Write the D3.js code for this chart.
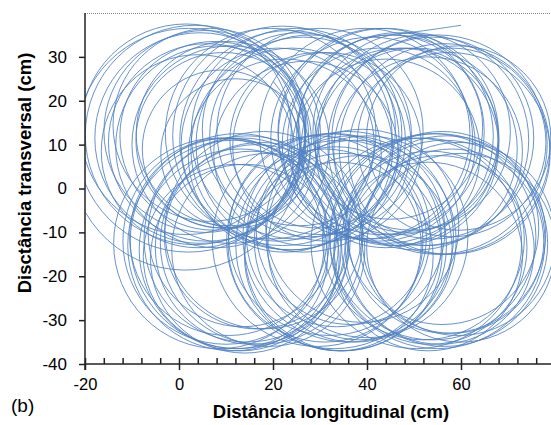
<!DOCTYPE html>
<html>
<head>
<meta charset="utf-8">
<script src="https://cdn.jsdelivr.net/npm/d3@7"></script>
<style>
  body { margin: 0; background: #fff; }
  svg { display: block; font-family: "Liberation Sans", Arial, sans-serif; }
  .loop { fill: none; stroke: #4f80c2; stroke-width: 1; stroke-opacity: 0.85; }
  .axis path, .axis line { stroke: #222; stroke-width: 1.5; }
  .axis text { fill: #000; font-size: 17px; font-family: "Liberation Sans", Arial, sans-serif; }
</style>
</head>
<body>
<svg id="chart" width="551" height="425"></svg>
<script>
// loops of the trajectory: centre (cm) and radius (cm, measured on the transversal axis)
var loopX = [
  // lower left
  11.5, 12.5, 13, 14.5, 10.5, 15.5, 13.5, 16.5, 12, 17.5, 10, 8.5, 19, 14, 18,
  // upper left
  3.4, 4.5, 5.5, 6, 7.5, 8, 9.5, 4, 10.5, 9, 12, 2, 1.5, 6.5, 11,
  // upper middle
  22, 23.5, 25, 26.5, 24, 28, 21, 27, 29.5, 25.5, 19.5, 30, 22.5, 31.5,
  // lower middle
  33, 34.5, 36, 32, 35, 37.5, 31, 36.5, 38.5, 33.5, 29.5, 40, 34, 39,
  // upper right
  44, 45.5, 43, 46.5, 42.5, 47, 45, 48.5, 41, 39.5, 49.5, 44, 50.5,
  // lower right
  55, 56.5, 54, 57, 53.5, 55.5, 52, 58, 56, 50.5, 59.5, 53, 60,
  // far right
  55, 56.5, 54, 57.5, 53, 58, 59.5, 52
];
var loopY = [
  -13, -12, -14, -11.5, -11, -13.5, -10, -11, -15.5, -12.5, -12, -12.5, -14, -16, -9.5,
  12.2, 11.5, 13, 10.5, 12, 9.5, 11, 8.5, 12.5, 9, 8, 11, 13.5, 14.5, 10,
  12, 11, 12.5, 10, 9, 12, 10, 8, 11, 13.5, 12.5, 13, 7.5, 9.5,
  -12, -13, -11, -10.5, -14.5, -12, -13, -9.5, -13.5, -11, -12, -11, -15.5, -8.5,
  12, 11, 13, 12.5, 10, 9.5, 14, 11, 11.5, 12.5, 13, 8, 9,
  -12, -12.5, -11, -10.5, -13.5, -14, -11.5, -12, -9, -12.5, -11.5, -15.5, -13.5,
  10, 9, 11.5, 8, 8.5, 10.5, 11.5, 11
];
var loopR = [
  24, 24.5, 23, 23.5, 22.5, 22, 21.5, 21, 21, 23, 23.5, 24, 22, 21.5, 22.5,
  25, 24, 23, 22.5, 21.5, 23, 20, 22, 21, 18, 17, 25.5, 24, 22, 22.5,
  25, 25, 24, 24.5, 23, 23, 22, 21, 20, 22, 24, 23.5, 22, 21.5,
  24.5, 24, 24, 23, 22.5, 23, 22, 21.5, 21, 20.5, 24, 23, 21.5, 22,
  24.5, 24, 23.5, 23, 22, 22.5, 21, 21, 23, 24, 22.5, 21.5, 23,
  24.5, 23.5, 23.5, 22.5, 22, 21.5, 23, 21, 22, 24, 22, 21.5, 21.5,
  25, 24, 23, 23, 21.5, 21.5, 21, 24
];

// first, incomplete loop (start of the path), angles in degrees
var startX = [1.3];
var startY = [7.6];
var startR = [26.2];
var startFrom = [150];
var startTo = [-40];

// last stretch of the path
var trailX = [47, 51, 55, 60];
var trailY = [35.3, 35.8, 36.4, 37.2];

var xTicks = [-20, 0, 20, 40, 60];
var xMinorTicks = [-20, -16, -12, -8, -4, 0, 4, 8, 12, 16, 20, 24, 28, 32, 36, 40, 44, 48, 52, 56, 60, 64, 68, 72, 76, 80];
var yTicks = [-40, -30, -20, -10, 0, 10, 20, 30];

var svg = d3.select("#chart");
var plotLeft = 85, plotRight = 551, plotTop = 13, plotBottom = 364;

var x = d3.scaleLinear().domain([-20, 80]).range([plotLeft, 555]);
var y = d3.scaleLinear().domain([-40, 40]).range([plotBottom, plotTop]);

function plain(d) { return String(d); }

svg.append("clipPath")
    .attr("id", "plot")
  .append("rect")
    .attr("x", plotLeft)
    .attr("y", plotTop)
    .attr("width", plotRight - plotLeft)
    .attr("height", plotBottom - plotTop);

// dotted frame line on top
svg.append("line")
    .attr("x1", plotLeft).attr("x2", plotRight)
    .attr("y1", plotTop + 0.5).attr("y2", plotTop + 0.5)
    .attr("stroke", "#888")
    .attr("stroke-width", 1)
    .attr("stroke-dasharray", "1,1");

var plot = svg.append("g").attr("clip-path", "url(#plot)");

function radiusPx(r) {
    return y(0) - y(r);
}

plot.selectAll(".loop.full")
    .data(d3.range(loopX.length))
    .enter()
    .append("path")
    .attr("class", "loop full")
    .attr("d", function(i) {
        var p = d3.path();
        var cx = x(loopX[i]), cy = y(loopY[i]), r = radiusPx(loopR[i]);
        p.moveTo(cx + r, cy);
        p.arc(cx, cy, r, 0, 2 * Math.PI);
        return p.toString();
    });

plot.selectAll(".loop.start")
    .data(d3.range(startX.length))
    .enter()
    .append("path")
    .attr("class", "loop start")
    .attr("d", function(i) {
        var p = d3.path();
        var a0 = startFrom[i] * Math.PI / 180, a1 = startTo[i] * Math.PI / 180;
        var cx = x(startX[i]), cy = y(startY[i]), r = radiusPx(startR[i]);
        p.moveTo(cx + r * Math.cos(a0), cy + r * Math.sin(a0));
        p.arc(cx, cy, r, a0, a1, true);
        return p.toString();
    });

plot.append("path")
    .datum(d3.range(trailX.length))
    .attr("class", "loop")
    .attr("d", d3.line()
        .curve(d3.curveBasis)
        .x(function(i) { return x(trailX[i]); })
        .y(function(i) { return y(trailY[i]); }));

// axes
var yAxis = svg.append("g")
    .attr("class", "axis")
    .attr("transform", "translate(" + plotLeft + ",0)")
    .call(d3.axisLeft(y).tickValues(yTicks).tickSize(6).tickPadding(12).tickFormat(plain));
yAxis.select(".domain").attr("d", "M0," + plotTop + "V" + (plotBottom + 6));

var xMinor = svg.append("g")
    .attr("class", "axis")
    .attr("transform", "translate(0," + plotBottom + ")")
    .call(d3.axisBottom(x).tickValues(xMinorTicks).tickSize(-6).tickFormat(""));
xMinor.select(".domain").remove();

var xAxis = svg.append("g")
    .attr("class", "axis")
    .attr("transform", "translate(0," + plotBottom + ")")
    .call(d3.axisBottom(x).tickValues(xTicks).tickSize(6).tickPadding(8).tickFormat(plain));
xAxis.select(".domain").attr("d", "M" + plotLeft + ",0H" + plotRight);
xAxis.selectAll("text").style("font-size", "16.5px");

// titles
svg.append("text")
    .attr("x", 331)
    .attr("y", 418)
    .attr("text-anchor", "middle")
    .style("font-weight", "bold")
    .style("font-size", "18.5px")
    .text("Distância longitudinal (cm)");

svg.append("text")
    .attr("transform", "translate(31,173) rotate(-90)")
    .attr("text-anchor", "middle")
    .style("font-weight", "bold")
    .style("font-size", "18.5px")
    .text("Disctância transversal (cm)");

svg.append("text")
    .attr("x", 11)
    .attr("y", 412)
    .style("font-size", "19px")
    .text("(b)");
</script>
</body>
</html>
